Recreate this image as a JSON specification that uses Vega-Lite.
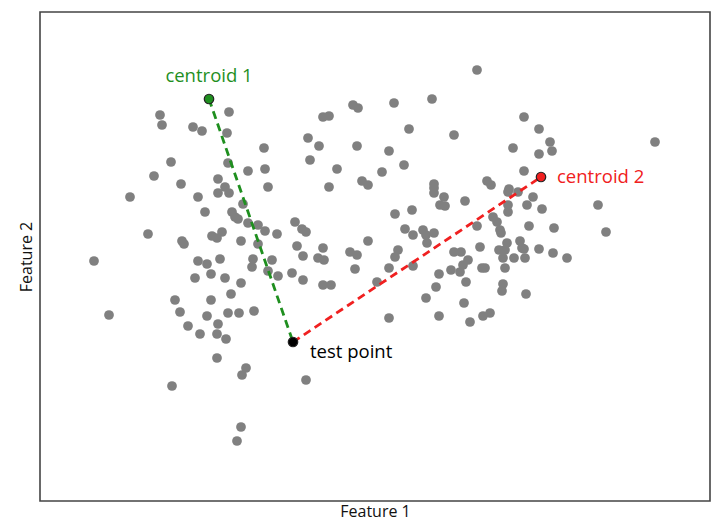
{
  "$schema": "https://vega.github.io/schema/vega-lite/v6.json",
  "width": 670,
  "height": 489,
  "autosize": "none",
  "padding": {"left": 40, "top": 12, "right": 10, "bottom": 26},
  "config": {
    "view": {"stroke": "#444", "strokeWidth": 1.6},
    "font": "Open Sans"
  },
  "datasets": {
    "pts": [
      {"x":437,"y":431},{"x":120,"y":386},{"x":122,"y":376},{"x":153,"y":374},{"x":162,"y":370},{"x":187,"y":368},{"x":189,"y":389},{"x":224,"y":353},{"x":131,"y":339},{"x":188,"y":338},{"x":208,"y":330},{"x":225,"y":332},{"x":114,"y":325},{"x":141,"y":317},{"x":178,"y":322},{"x":185,"y":314},{"x":228,"y":314},
      {"x":313,"y":396},{"x":318,"y":393},{"x":354,"y":398},{"x":392,"y":402},{"x":283,"y":384},{"x":289,"y":385},{"x":369,"y":372},{"x":414,"y":366},{"x":268,"y":363},{"x":279,"y":355},{"x":317,"y":355},{"x":349,"y":350},{"x":270,"y":341},{"x":297,"y":332},{"x":342,"y":329},{"x":364,"y":336},{"x":322,"y":320},{"x":328,"y":316},{"x":289,"y":314},{"x":394,"y":317},{"x":394,"y":313},
      {"x":484,"y":384},{"x":499,"y":372},{"x":510,"y":359},{"x":512,"y":350},{"x":473,"y":353},{"x":499,"y":347},{"x":615,"y":359},{"x":484,"y":330},{"x":447,"y":320},{"x":451,"y":316},{"x":469,"y":312},
      {"x":90,"y":304},{"x":158,"y":304},{"x":178,"y":308},{"x":189,"y":308},{"x":203,"y":297},{"x":165,"y":289},{"x":192,"y":289},{"x":195,"y":284},{"x":198,"y":282},{"x":208,"y":278},{"x":218,"y":276},{"x":225,"y":270},{"x":237,"y":267},{"x":108,"y":267},{"x":172,"y":265},{"x":177,"y":263},{"x":182,"y":269},{"x":201,"y":260},{"x":142,"y":260},{"x":144,"y":257},{"x":218,"y":257},{"x":54,"y":240},{"x":158,"y":240},{"x":167,"y":237},{"x":180,"y":242},{"x":213,"y":242},{"x":212,"y":234},{"x":232,"y":241},{"x":228,"y":230},{"x":238,"y":225},{"x":155,"y":223},{"x":171,"y":227},{"x":185,"y":223},{"x":201,"y":218},{"x":191,"y":207},{"x":135,"y":201},{"x":171,"y":201},{"x":140,"y":189},{"x":69,"y":186},{"x":167,"y":185},{"x":188,"y":188},{"x":199,"y":188},{"x":214,"y":190},
      {"x":394,"y":308},{"x":404,"y":304},{"x":425,"y":300},{"x":400,"y":296},{"x":405,"y":295},{"x":355,"y":287},{"x":372,"y":291},{"x":255,"y":279},{"x":262,"y":272},{"x":266,"y":269},{"x":365,"y":272},{"x":373,"y":266},{"x":383,"y":271},{"x":386,"y":266},{"x":394,"y":268},{"x":387,"y":258},{"x":328,"y":260},{"x":257,"y":255},{"x":263,"y":245},{"x":283,"y":253},{"x":278,"y":243},{"x":284,"y":241},{"x":310,"y":249},{"x":317,"y":246},{"x":358,"y":251},{"x":355,"y":244},{"x":414,"y":249},{"x":421,"y":249},{"x":428,"y":241},{"x":423,"y":236},{"x":373,"y":235},{"x":349,"y":233},{"x":315,"y":232},{"x":252,"y":228},{"x":263,"y":221},{"x":411,"y":231},{"x":420,"y":229},{"x":399,"y":227},{"x":337,"y":219},{"x":283,"y":216},{"x":291,"y":216},{"x":426,"y":219},{"x":396,"y":214},{"x":386,"y":203},{"x":424,"y":198},{"x":349,"y":183},{"x":399,"y":185},
      {"x":468,"y":309},{"x":478,"y":309},{"x":493,"y":304},{"x":487,"y":296},{"x":502,"y":292},{"x":468,"y":296},{"x":468,"y":289},{"x":558,"y":296},{"x":437,"y":275},{"x":453,"y":284},{"x":457,"y":279},{"x":460,"y":271},{"x":461,"y":268},{"x":489,"y":275},{"x":514,"y":273},{"x":566,"y":269},{"x":440,"y":254},{"x":459,"y":251},{"x":467,"y":258},{"x":465,"y":251},{"x":480,"y":260},{"x":482,"y":253},{"x":484,"y":252},{"x":463,"y":243},{"x":474,"y":243},{"x":485,"y":243},{"x":499,"y":252},{"x":513,"y":248},{"x":527,"y":243},{"x":442,"y":233},{"x":445,"y":233},{"x":465,"y":233},{"x":463,"y":217},{"x":462,"y":210},{"x":486,"y":207},{"x":450,"y":188},{"x":443,"y":185},
      {"x":148,"y":175},{"x":160,"y":167},{"x":178,"y":177},{"x":177,"y":167},{"x":186,"y":162},{"x":177,"y":143},{"x":206,"y":133},{"x":202,"y":126},{"x":132,"y":115},{"x":201,"y":74},{"x":197,"y":60},{"x":430,"y":179},{"x":266,"y":121}
    ],
    "special": [
      {"x":169,"y":402,"name":"centroid 1"},
      {"x":501,"y":324,"name":"centroid 2"},
      {"x":253,"y":159,"name":"test point"}
    ],
    "segs": [
      {"x":169,"y":402,"seg":"c1"},{"x":253,"y":159,"seg":"c1"},
      {"x":253,"y":159,"seg":"c2"},{"x":501,"y":324,"seg":"c2"}
    ]
  },
  "encoding": {
    "x": {"field": "x", "type": "quantitative", "scale": {"domain": [0, 670], "nice": false, "zero": false},
          "axis": {"title": "Feature 1", "labels": false, "ticks": false, "domain": false, "grid": false, "titleFontSize": 16, "titleFontWeight": "normal", "titleColor": "#111", "titlePadding": 2}},
    "y": {"field": "y", "type": "quantitative", "scale": {"domain": [0, 489], "nice": false, "zero": false},
          "axis": {"title": "Feature 2", "labels": false, "ticks": false, "domain": false, "grid": false, "titleFontSize": 16, "titleFontWeight": "normal", "titleColor": "#111", "titlePadding": 6}}
  },
  "layer": [
    {
      "data": {"name": "pts"},
      "mark": {"type": "circle", "size": 95, "color": "#808080", "opacity": 1}
    },
    {
      "data": {"name": "segs"},
      "mark": {"type": "line", "strokeWidth": 2.8, "strokeDash": [8, 5]},
      "encoding": {
        "detail": {"field": "seg"},
        "color": {"field": "seg", "type": "nominal", "scale": {"domain": ["c1", "c2"], "range": ["#1f8f1f", "#f02020"]}, "legend": null}
      }
    },
    {
      "data": {"name": "special"},
      "mark": {"type": "point", "filled": true, "size": 90, "stroke": "#222", "strokeWidth": 1.2, "opacity": 1, "shape": "circle"},
      "encoding": {
        "fill": {"field": "name", "type": "nominal", "scale": {"domain": ["centroid 1", "centroid 2", "test point"], "range": ["#1f8f1f", "#f02020", "#000000"]}, "legend": null}
      }
    },
    {
      "data": {"name": "special"},
      "transform": [{"filter": "datum.name == 'centroid 1'"}],
      "mark": {"type": "text", "align": "center", "baseline": "middle", "dy": -23, "fontSize": 18.5, "color": "#1f8f1f"},
      "encoding": {"text": {"field": "name"}}
    },
    {
      "data": {"name": "special"},
      "transform": [{"filter": "datum.name == 'centroid 2'"}],
      "mark": {"type": "text", "align": "left", "baseline": "middle", "dx": 16, "dy": 0, "fontSize": 18.5, "color": "#f02020"},
      "encoding": {"text": {"field": "name"}}
    },
    {
      "data": {"name": "special"},
      "transform": [{"filter": "datum.name == 'test point'"}],
      "mark": {"type": "text", "align": "left", "baseline": "middle", "dx": 17, "dy": 10, "fontSize": 18.5, "color": "#000000"},
      "encoding": {"text": {"field": "name"}}
    }
  ]
}
